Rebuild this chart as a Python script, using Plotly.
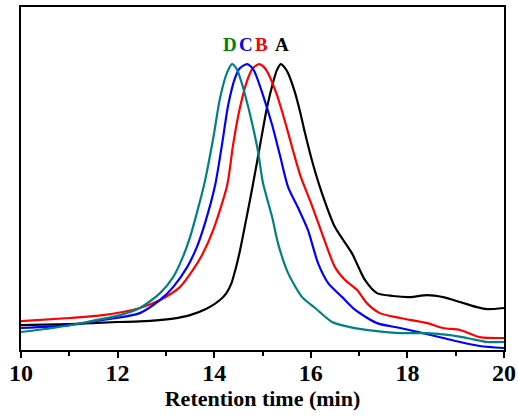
import plotly.graph_objects as go

# GPC traces: retention time (min) vs normalised detector response
a_time = [10.00, 11.01, 11.99, 12.46, 13.15, 13.50, 13.85, 14.12, 14.25, 14.36, 14.45, 14.53, 14.68,
          14.80, 14.95, 15.09, 15.22, 15.30, 15.38, 15.46, 15.53, 15.67, 15.78, 15.88, 16.05,
          16.23, 16.50, 16.85, 17.12, 17.37, 17.70, 18.05, 18.41, 18.74, 19.09, 19.44, 19.65, 20.00]
a_signal = [0.087, 0.091, 0.098, 0.100, 0.110, 0.122, 0.145, 0.175, 0.198, 0.235, 0.288, 0.345, 0.472,
            0.577, 0.717, 0.846, 0.937, 0.980, 1.000, 0.988, 0.968, 0.902, 0.832, 0.759, 0.647,
            0.549, 0.430, 0.339, 0.245, 0.199, 0.189, 0.185, 0.192, 0.185, 0.168, 0.150, 0.143, 0.147]

b_time = [10.00, 11.01, 11.70, 12.46, 12.88, 13.29, 13.56, 13.77, 13.98, 14.27, 14.39, 14.53,
          14.70, 14.80, 14.93, 15.04, 15.11, 15.30, 15.47, 15.63, 15.78, 16.02, 16.23, 16.50, 16.71,
          16.96, 17.16, 17.43, 17.85, 18.41, 18.74, 19.09, 19.50, 20.00]
b_signal = [0.101, 0.112, 0.122, 0.147, 0.175, 0.220, 0.280, 0.339, 0.420, 0.577, 0.717, 0.846,
            0.951, 0.986, 1.000, 0.988, 0.970, 0.892, 0.797, 0.699, 0.612, 0.507, 0.409, 0.290,
            0.245, 0.210, 0.164, 0.129, 0.112, 0.094, 0.077, 0.070, 0.045, 0.042]

c_time = [10.00, 11.01, 11.70, 12.46, 12.88, 13.15, 13.44, 13.64, 13.81, 14.02, 14.16, 14.29,
          14.43, 14.53, 14.68, 14.78, 14.84, 15.01, 15.20, 15.36, 15.53, 15.73, 15.94, 16.15, 16.36,
          16.65, 16.92, 17.37, 17.85, 18.32, 18.74, 19.09, 19.50, 20.00]
c_signal = [0.077, 0.087, 0.105, 0.129, 0.175, 0.220, 0.290, 0.360, 0.444, 0.577, 0.717, 0.857,
            0.951, 0.986, 1.000, 0.988, 0.972, 0.892, 0.787, 0.682, 0.570, 0.500, 0.420, 0.304,
            0.234, 0.185, 0.140, 0.094, 0.077, 0.059, 0.042, 0.028, 0.014, 0.007]

d_time = [10.00, 10.66, 11.37, 12.05, 12.46, 12.88, 13.15, 13.35, 13.50, 13.64, 13.79, 13.98,
          14.12, 14.27, 14.37, 14.47, 14.55, 14.64, 14.78, 14.91, 15.01, 15.20, 15.32, 15.53, 15.82,
          16.09, 16.44, 16.81, 17.37, 17.85, 18.41, 18.88, 19.23, 19.65, 20.00]
d_signal = [0.063, 0.077, 0.098, 0.122, 0.147, 0.199, 0.255, 0.325, 0.395, 0.479, 0.577, 0.741,
            0.881, 0.972, 1.000, 0.982, 0.945, 0.892, 0.797, 0.692, 0.584, 0.465, 0.374, 0.269,
            0.185, 0.147, 0.098, 0.080, 0.066, 0.059, 0.059, 0.052, 0.042, 0.028, 0.028]

x_ticks = [10, 12, 14, 16, 18, 20]

series = [
    ("A", a_time, a_signal, "#000000"),
    ("B", b_time, b_signal, "#ff0000"),
    ("C", c_time, c_signal, "#0000ff"),
    ("D", d_time, d_signal, "#008080"),
]
label_colors = {"A": "#000000", "B": "#ff0000", "C": "#0000ff", "D": "#008000"}
label_x = {"A": 15.40, "B": 14.97, "C": 14.66, "D": 14.33}

fig = go.Figure()
for name, xs, ys, color in series:
    fig.add_trace(go.Scatter(
        x=xs, y=ys, mode="lines", name=name,
        line=dict(color=color, width=2.2, shape="spline", smoothing=0.7),
        showlegend=False,
    ))
    fig.add_annotation(
        x=label_x[name], y=1.07, text=f"<b>{name}</b>", showarrow=False,
        font=dict(family="Liberation Serif", size=19, color=label_colors[name]),
        xanchor="center", yanchor="middle",
    )

serif = "Liberation Serif"
fig.update_layout(
    width=518, height=418,
    margin=dict(l=21, r=14, t=7, b=68),
    paper_bgcolor="white", plot_bgcolor="white",
    font=dict(family=serif, color="black"),
    xaxis=dict(
        range=[10, 20], tickvals=x_ticks, ticktext=[f"<b>{t}</b>" for t in x_ticks],
        automargin=False,
        ticks="outside", ticklen=6, tickwidth=2, tickcolor="black",
        ticklabelstandoff=-6,
        minor=dict(dtick=1, ticks="outside", ticklen=4, tickwidth=2, tickcolor="black"),
        showline=True, linecolor="black", linewidth=2, mirror=True,
        showgrid=False, zeroline=False,
        tickfont=dict(family=serif, size=24, color="black"),
        title=dict(text="<b>Retention time (min)</b>", standoff=6,
                   font=dict(family=serif, size=22, color="black")),
    ),
    yaxis=dict(
        range=[0, 1.2], showticklabels=False, ticks="", automargin=False,
        showline=True, linecolor="black", linewidth=2, mirror=True,
        showgrid=False, zeroline=False,
    ),
)

fig.write_html("out.html")
